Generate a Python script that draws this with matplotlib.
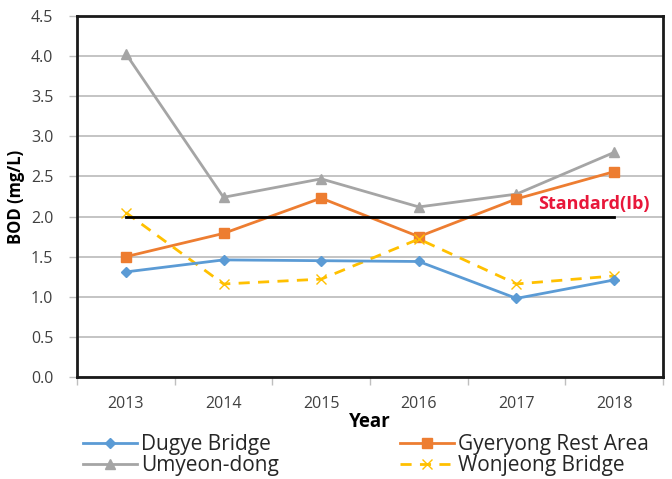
import matplotlib
matplotlib.use("Agg")
import matplotlib.pyplot as plt

years = ["2013", "2014", "2015", "2016", "2017", "2018"]
dugye = [1.31, 1.46, 1.45, 1.44, 0.98, 1.21]
gyeryong = [1.50, 1.79, 2.23, 1.75, 2.22, 2.56]
umyeon = [4.03, 2.24, 2.47, 2.12, 2.28, 2.80]
wonjeong = [2.05, 1.16, 1.22, 1.72, 1.16, 1.26]
standard = 2.0
yticks = [0.0, 0.5, 1.0, 1.5, 2.0, 2.5, 3.0, 3.5, 4.0, 4.5]

plt.rcParams['font.family'] = ['Open Sans', 'DejaVu Sans']

fig = plt.figure(figsize=(6.72, 4.79), dpi=100)
ax = fig.add_axes([0.1146, 0.2129, 0.872, 0.7537])
x = list(range(len(years)))

ax.set_xlim(-0.5, len(years) - 0.5)
ax.set_ylim(0, 4.5)
ax.set_yticks(yticks)
ax.set_yticklabels([f"{v:.1f}" for v in yticks])
ax.yaxis.grid(True, color="#bfbfbf", linewidth=1.3)
ax.set_axisbelow(True)

ax.set_xticks(x)
ax.set_xticklabels(years)
ax.set_xticks([i - 0.5 for i in range(len(years) + 1)], minor=True)
ax.tick_params(axis="x", which="major", length=0, pad=14, labelsize=11.5, labelcolor="#404040")
ax.tick_params(axis="x", which="minor", length=6, color="#bfbfbf", width=1)
ax.tick_params(axis="y", length=6, color="#bfbfbf", width=1, labelsize=11.5, labelcolor="#404040", pad=11)

for s in ax.spines.values():
    s.set_linewidth(2)
    s.set_color("#1a1a1a")

ax.plot(x, umyeon, color="#a5a5a5", marker="^", markersize=7, linewidth=2, label="Umyeon-dong")
ax.plot(x, gyeryong, color="#ed7d31", marker="s", markersize=7, linewidth=2, label="Gyeryong Rest Area")
ax.plot(x, wonjeong, color="#ffc000", marker="x", markersize=7, linewidth=2, dashes=(4, 3), label="Wonjeong Bridge")
ax.plot(x, dugye, color="#5b9bd5", marker="D", markersize=5, linewidth=2, label="Dugye Bridge")
ax.plot([x[0], x[-1]], [standard, standard], color="black", linewidth=2)
ax.text(x[-1] + 0.36, standard + 0.04, "Standard(Ib)", color="#e8173a", fontsize=13,
        fontweight="bold", ha="right", va="bottom")

ax.set_ylabel("BOD (mg/L)", fontsize=12, fontweight="bold", labelpad=4)
ax.set_xlabel("Year", fontsize=13.5, fontweight="bold", labelpad=0)

h = {l.get_label(): l for l in ax.get_lines()}
order = ["Dugye Bridge", "Umyeon-dong", "Gyeryong Rest Area", "Wonjeong Bridge"]
fig.legend([h[k] for k in order], order, ncol=2, loc="upper left",
           bbox_to_anchor=(0.108, 0.116), frameon=False, fontsize=15,
           handlelength=2.6, columnspacing=5.8, labelspacing=0.0, handletextpad=0.2,
           borderpad=0, labelcolor="#262626")

fig.savefig("out.png", dpi=100)
